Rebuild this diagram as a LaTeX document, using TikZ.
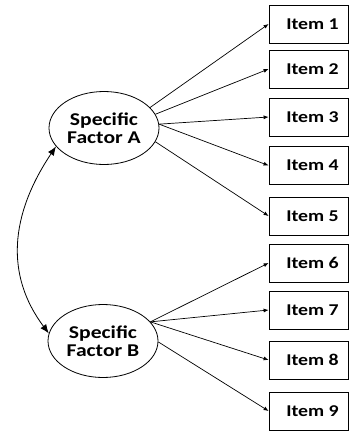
\documentclass[tikz,border=0pt]{standalone}
\usepackage{fontspec}
\setmainfont{Carlito}[FakeStretch=1.2]
\usetikzlibrary{arrows.meta,shapes.geometric}
\begin{document}
\begin{tikzpicture}[x=1pt,y=-1pt,
  factor/.style={draw,ellipse,line width=0.8pt,minimum width=110pt,minimum height=73pt,
    inner sep=0pt,align=center,font=\bfseries\fontsize{18}{18.5}\selectfont},
  itembox/.style={draw,rectangle,line width=0.8pt,minimum width=79pt,minimum height=38pt,
    inner sep=0pt,font=\bfseries\fontsize{16.5}{18}\selectfont},
  load/.style={line width=0.7pt,-{Latex[length=5pt,width=4pt]}},
  cov/.style={line width=0.8pt,{Latex[length=9pt,width=7pt]}-{Latex[length=9pt,width=7pt]}}]
\useasboundingbox (0,0) rectangle (349,431);

% latent factors
\node[factor] (A) at (104,128) {Specific\\Factor A};
\node[factor] (B) at (103,341) {Specific\\Factor B};

% indicator items
\foreach \i/\y in {1/24,2/69,3/117,4/165.5,5/216,6/263,7/310,8/360,9/411}
  \node[itembox] (I\i) at (308.5,\y) {\hspace*{8pt}Item \i};

% loadings of factor A
\draw[load] (A.24) -- (I1.west);
\draw[load] (A.15) -- (I2.west);
\draw[load] (A.4)  -- (I3.west);
\draw[load] (A.4)  -- (I4.west);
\draw[load] (A.-15) -- (I5.west);

% loadings of factor B
\draw[load] (B.22) -- (I6.west);
\draw[load] (B.22) -- (I7.west);
\draw[load] (B.22) -- (I8.west);
\draw[load] (B.-1) -- (I9.west);

% factor covariance
\draw[cov] (A.201) .. controls (10,215) and (5,275) .. (B.172);
\end{tikzpicture}
\end{document}
